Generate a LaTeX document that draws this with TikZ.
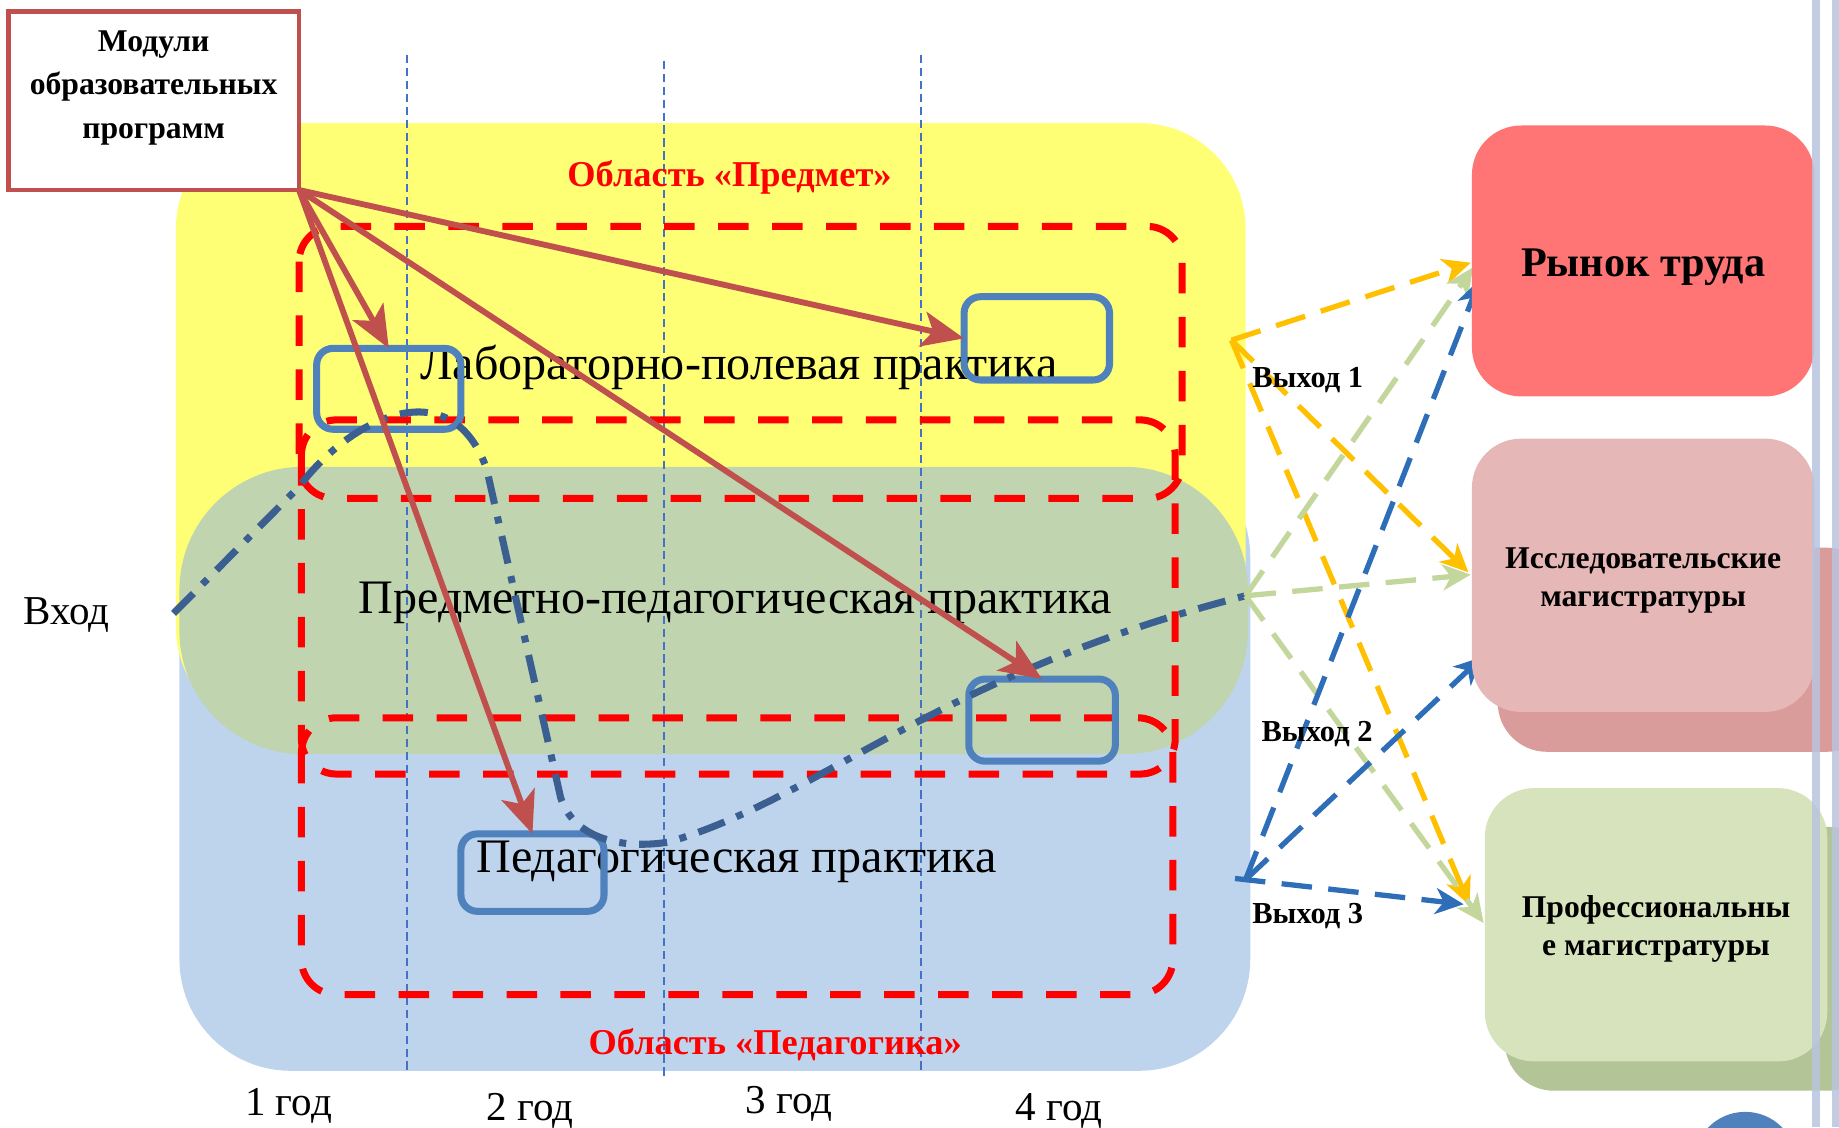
\documentclass[tikz,border=0pt]{standalone}
\usepackage{fontspec}
\setmainfont{Liberation Serif}
\usetikzlibrary{arrows.meta,calc}
\definecolor{ylw}{RGB}{255,255,117}
\definecolor{grn}{RGB}{192,213,175}
\definecolor{blu}{RGB}{190,212,237}
\definecolor{darkred}{RGB}{192,80,77}
\definecolor{boxblue}{RGB}{79,129,189}
\definecolor{ddblue}{RGB}{59,95,145}
\definecolor{gridblue}{RGB}{68,114,196}
\definecolor{arrY}{RGB}{255,192,0}
\definecolor{arrG}{RGB}{195,214,155}
\definecolor{arrB}{RGB}{46,109,184}
\definecolor{mktred}{RGB}{255,117,117}
\definecolor{respink}{RGB}{229,184,183}
\definecolor{respinkd}{RGB}{218,155,155}
\definecolor{profgrn}{RGB}{215,227,188}
\definecolor{profgrnd}{RGB}{179,196,150}
\definecolor{slideborder}{RGB}{184,196,222}
\tikzset{
  pbox/.style={draw=boxblue, line width=6pt, rounded corners=14pt, inner sep=0pt, outer sep=0pt},
  reddash/.style={draw=red, line width=6pt, dash pattern=on 26pt off 20pt, rounded corners=30pt},
  gridline/.style={draw=gridblue, line width=1.6pt, dash pattern=on 7pt off 4pt},
  modarrow/.style={draw=darkred, line width=5pt, -{Stealth[length=36pt,width=30pt,inset=9pt]}},
  outarrow/.style={line width=4.5pt, dash pattern=on 26pt off 14pt, -{Stealth[length=24pt,width=22pt,inset=7pt]}},
  ddash/.style={draw=ddblue, line width=6pt, dash pattern=on 24pt off 11pt on 6pt off 11pt},
  praclbl/.style={font=\fontsize{41}{48}\selectfont, inner sep=0pt},
  arealbl/.style={text=red, font=\bfseries\fontsize{31}{36}\selectfont, inner sep=0pt},
  yearlbl/.style={font=\fontsize{35}{40}\selectfont, inner sep=0pt},
  exitlbl/.style={font=\bfseries\fontsize{26}{30}\selectfont, inner sep=0pt},
  rbox/.style={rounded corners=42pt, inner sep=0pt, outer sep=0pt, minimum width=292pt, minimum height=232pt},
  rtext/.style={align=center, inner sep=0pt, font=\bfseries\fontsize{27}{33}\selectfont},
}
\begin{document}
\begin{tikzpicture}[x=1pt,y=-1pt]
\useasboundingbox (0,0) rectangle (1568,961);
\clip (0,0) rectangle (1568,961);
\fill[white] (0,0) rectangle (1568,961);
% regions
\fill[blu, rounded corners=95pt] (153,380) rectangle (1066,913);
\fill[ylw, rounded corners=90pt] (150,105) rectangle (1062,625);
\fill[grn, rounded corners=105pt] (153,398) rectangle (1064,643);
% year grid
\draw[gridline] (347,47) -- (347,915);
\draw[gridline] (566,52) -- (566,917);
\draw[gridline] (785,47) -- (785,915);
% red dashed frames
\draw[reddash] (255,193) rectangle (1008,425);
\draw[reddash] (257,358) rectangle (1002,660);
\draw[reddash] (257,612) rectangle (1000,848);
% labels in regions
\node[arealbl] (tsubj) at (622,151) {Область «Предмет»};
\node[arealbl] (tped) at (661,891) {Область «Педагогика»};
\node[praclbl] (tlab) at (630,313) {Лабораторно-полевая практика};
\node[praclbl] (tsp) at (627,514) {Предметно-педагогическая практика};
\node[praclbl] (tpp) at (628,735) {Педагогическая практика};
% practice boxes
\node[pbox, minimum width=123pt, minimum height=69pt] (boxA) at (331.5,331.5) {};
\node[pbox, minimum width=124pt, minimum height=71pt] (boxB) at (884,288.5) {};
\node[pbox, minimum width=125pt, minimum height=70pt] (boxC) at (888.5,614) {};
\node[pbox, minimum width=122pt, minimum height=66pt] (boxD) at (454,744) {};
% entry / exits
\coordinate (vhod) at (148,523);
\coordinate (Y0) at (1050,290);
\coordinate (G0) at (1062,508);
\coordinate (B0) at (1062,750);
\coordinate (B3) at (1053,749);
\node[yearlbl] (tin) at (57,524) {Вход};
% dash-dot trajectory
\draw[ddash] (vhod) -- (255,415) .. controls (300,355) and (385,315) .. (415,400) -- (478,680) .. controls (488,712) and (525,725) .. (570,718) .. controls (700,680) and (800,575) .. (G0);
% modules box
\node[draw=darkred, line width=4pt, fill=white, minimum width=248pt, minimum height=152pt, inner sep=0pt, outer sep=0pt] (mod) at (131,86) {};
\node[font=\bfseries\fontsize{27}{37}\selectfont, align=center, inner sep=0pt] (modtxt) at (131,75) {Модули\\образовательных\\программ};
% arrows from modules
\draw[modarrow] (mod.south east) -- (boxB.west);
\draw[modarrow] (mod.south east) -- (boxA.north);
\draw[modarrow] (mod.south east) -- (boxC.north);
\draw[modarrow] (mod.south east) -- (boxD.north);
% output arrows
\draw[outarrow, arrY] (Y0) -- (1254,224);
\draw[outarrow, arrY] (Y0) -- (1252,488);
\draw[outarrow, arrY] (Y0) -- (1253,772);
\draw[outarrow, arrG] (G0) -- (1256,228);
\draw[outarrow, arrG] (G0) -- (1254,490);
\draw[outarrow, arrG] (G0) -- (1265,787);
\draw[outarrow, arrB] (B0) -- (1262,238);
\draw[outarrow, arrB] (B0) -- (1264,560);
\draw[outarrow, arrB] (B3) -- (1248,771);
% right boxes
\fill[respinkd, rounded corners=42pt] (1277,467) rectangle (1600,641);
\fill[profgrnd, rounded corners=42pt] (1283,705) rectangle (1600,930);
\node[rbox, fill=mktred, minimum height=231pt] (mkt) at (1401,222.5) {};
\node[rbox, fill=respink, minimum height=233pt] (res) at (1401,490.5) {};
\node[rbox, fill=profgrn, minimum height=233pt] (prof) at (1412,788.5) {};
\node[rtext, font=\bfseries\fontsize{36}{40}\selectfont] (mktl) at (1401,228) {Рынок труда};
\node[rtext] (resl) at (1401,495) {Исследовательские\\магистратуры};
\node[rtext] (profl) at (1412,792) {Профессиональны\\е магистратуры};
% slide border lines
\fill[slideborder, opacity=0.85] (1545,0) rectangle (1552,961);
\fill[slideborder, opacity=0.85] (1562,0) rectangle (1568,961);
\node[exitlbl] (x1) at (1115,324) {Выход 1};
\node[exitlbl] (x2) at (1123,626) {Выход 2};
\node[exitlbl] (x3) at (1115,781) {Выход 3};
% years
\node[yearlbl] (y1) at (246,943) {1 год};
\node[yearlbl] (y2) at (452,947) {2 год};
\node[yearlbl] (y3) at (673,941) {3 год};
\node[yearlbl] (y4) at (903,947) {4 год};
% corner circle
\fill[boxblue] (1488,992) circle (44);
\end{tikzpicture}
\end{document}
